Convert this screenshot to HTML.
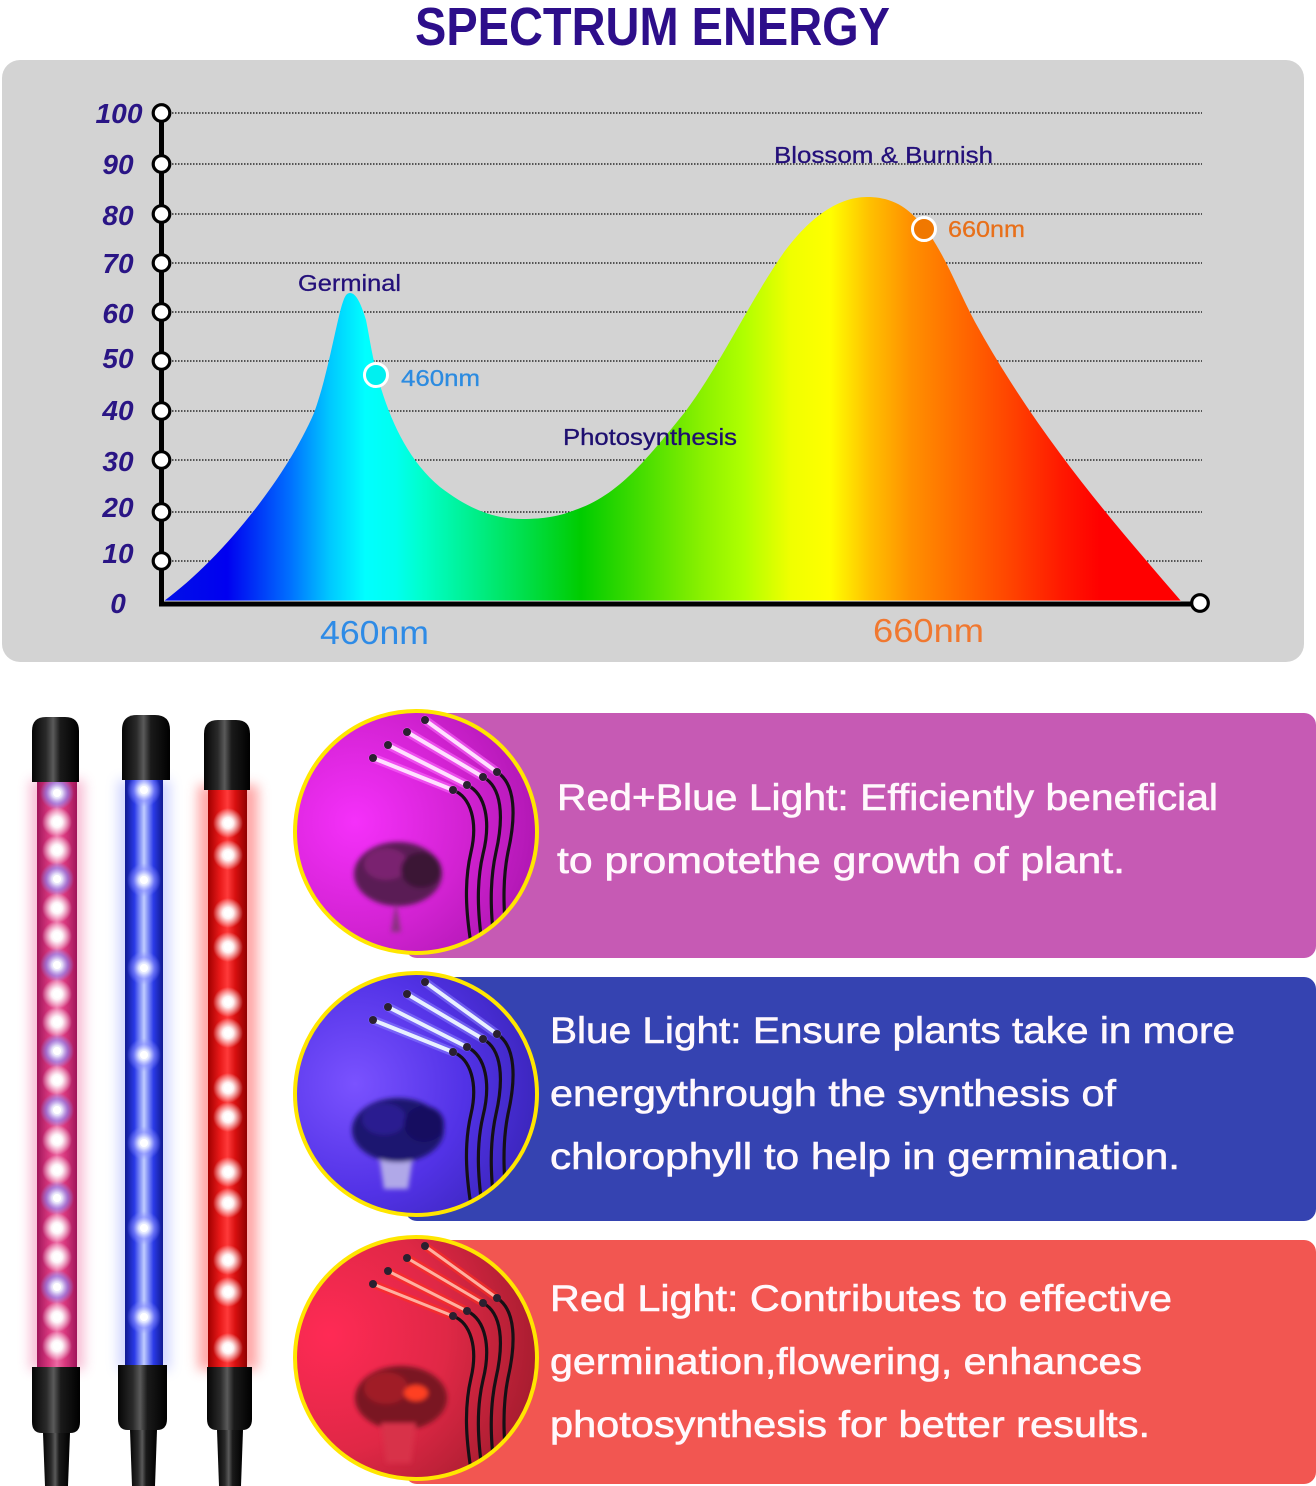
<!DOCTYPE html>
<html><head><meta charset="utf-8"><style>html,body{margin:0;padding:0;background:#fff}svg{display:block}</style></head>
<body>
<svg xmlns="http://www.w3.org/2000/svg" width="1316" height="1486" viewBox="0 0 1316 1486">
<defs>
<linearGradient id="spec" gradientUnits="userSpaceOnUse" x1="164" y1="0" x2="1181" y2="0">
<stop offset="0" stop-color="#0010E8"/>
<stop offset="0.062" stop-color="#0000F0"/>
<stop offset="0.124" stop-color="#0070FF"/>
<stop offset="0.163" stop-color="#00C8FF"/>
<stop offset="0.198" stop-color="#00FFFF"/>
<stop offset="0.228" stop-color="#00FFF0"/>
<stop offset="0.253" stop-color="#00FFCC"/>
<stop offset="0.307" stop-color="#00EE88"/>
<stop offset="0.35" stop-color="#00E050"/>
<stop offset="0.41" stop-color="#00CC00"/>
<stop offset="0.468" stop-color="#44DD00"/>
<stop offset="0.527" stop-color="#88F000"/>
<stop offset="0.57" stop-color="#B0FF00"/>
<stop offset="0.616" stop-color="#F0FF00"/>
<stop offset="0.655" stop-color="#FFFF00"/>
<stop offset="0.694" stop-color="#FFC000"/>
<stop offset="0.734" stop-color="#FF9000"/>
<stop offset="0.783" stop-color="#FF6A00"/>
<stop offset="0.837" stop-color="#FF4000"/>
<stop offset="0.881" stop-color="#FF1A00"/>
<stop offset="0.92" stop-color="#FF0000"/>
<stop offset="1" stop-color="#FF0000"/>
</linearGradient>
<linearGradient id="cap" x1="0" x2="1" y1="0" y2="0">
<stop offset="0" stop-color="#050505"/><stop offset="0.3" stop-color="#2a2a2a"/><stop offset="0.45" stop-color="#5a5a5a"/><stop offset="0.6" stop-color="#1a1a1a"/><stop offset="1" stop-color="#000"/>
</linearGradient>
<linearGradient id="t1" x1="0" x2="1" y1="0" y2="0">
<stop offset="0" stop-color="#a0145a"/><stop offset="0.3" stop-color="#d8387e"/><stop offset="0.5" stop-color="#ee6aa4"/><stop offset="0.7" stop-color="#d8387e"/><stop offset="1" stop-color="#a0145a"/>
</linearGradient>
<linearGradient id="t2" x1="0" x2="1" y1="0" y2="0">
<stop offset="0" stop-color="#101a90"/><stop offset="0.25" stop-color="#2a3ae8"/><stop offset="0.5" stop-color="#c0ccff"/><stop offset="0.75" stop-color="#2a3ae8"/><stop offset="1" stop-color="#101a90"/>
</linearGradient>
<linearGradient id="t3" x1="0" x2="1" y1="0" y2="0">
<stop offset="0" stop-color="#a00000"/><stop offset="0.3" stop-color="#e81818"/><stop offset="0.5" stop-color="#ff3a3a"/><stop offset="0.7" stop-color="#d81010"/><stop offset="1" stop-color="#900000"/>
</linearGradient>
<radialGradient id="ledw">
<stop offset="0" stop-color="#fff" stop-opacity="1"/><stop offset="0.35" stop-color="#fff" stop-opacity="0.95"/><stop offset="1" stop-color="#fff" stop-opacity="0"/>
</radialGradient>
<radialGradient id="ledb">
<stop offset="0" stop-color="#fff" stop-opacity="1"/><stop offset="0.3" stop-color="#e8ecff" stop-opacity="0.95"/><stop offset="0.65" stop-color="#8a90ff" stop-opacity="0.6"/><stop offset="1" stop-color="#8a90ff" stop-opacity="0"/>
</radialGradient>
<filter id="blur6" x="-50%" y="-10%" width="200%" height="120%"><feGaussianBlur stdDeviation="6"/></filter>
<filter id="blur2" x="-30%" y="-30%" width="160%" height="160%"><feGaussianBlur stdDeviation="2.5"/></filter>
<radialGradient id="p1" cx="0.25" cy="0.45" r="0.85">
<stop offset="0" stop-color="#f530fa"/><stop offset="0.5" stop-color="#d222d2"/><stop offset="1" stop-color="#a012a4"/>
</radialGradient>
<radialGradient id="p2" cx="0.25" cy="0.45" r="0.85">
<stop offset="0" stop-color="#7a52ff"/><stop offset="0.5" stop-color="#5232e6"/><stop offset="1" stop-color="#3020a8"/>
</radialGradient>
<radialGradient id="p3" cx="0.15" cy="0.4" r="0.9">
<stop offset="0" stop-color="#ff2a55"/><stop offset="0.5" stop-color="#e02846"/><stop offset="1" stop-color="#9a1a2a"/>
</radialGradient>
<clipPath id="c1"><circle cx="416" cy="832" r="121"/></clipPath>
<clipPath id="c2"><circle cx="416" cy="1094" r="121"/></clipPath>
<clipPath id="c3"><circle cx="416" cy="1358" r="121"/></clipPath>
<g id="stems" fill="none" stroke="#151015" stroke-width="3.2">
<path d="M37,-42 C55,-35 62,-10 55,20 C48,50 50,80 55,112"/>
<path d="M51,-47 C70,-38 75,-10 67,22 C60,52 62,82 66,112"/>
<path d="M67,-55 C86,-45 88,-15 80,20 C73,52 75,82 78,110"/>
<path d="M81,-60 C100,-48 100,-15 92,20 C86,50 88,80 90,104"/>
</g>
<g id="barends" fill="#2a2030">
<circle cx="-43" cy="-74" r="4"/><circle cx="-28" cy="-87" r="4"/><circle cx="-9" cy="-100" r="4"/><circle cx="9" cy="-112" r="4"/>
<circle cx="37" cy="-42" r="4"/><circle cx="51" cy="-47" r="4"/><circle cx="67" cy="-55" r="4"/><circle cx="81" cy="-60" r="4"/>
</g>
<g id="led1"><circle r="15" fill="url(#ledw)"/><circle r="4" fill="#fff"/></g>
<g id="led2"><circle r="17" fill="url(#ledb)"/><circle r="4" fill="#fff"/></g>
</defs>

<!-- Title -->
<text x="415" y="45" font-family="Liberation Sans, sans-serif" font-weight="bold" font-size="54" fill="#2D0E8A" textLength="475" lengthAdjust="spacingAndGlyphs">SPECTRUM ENERGY</text>

<!-- Panel -->
<rect x="2" y="60" width="1302" height="602" rx="18" fill="#D3D3D3"/>

<!-- Grid lines -->
<g stroke="#2a2a2a" stroke-width="1.5" stroke-dasharray="1.5 1.5">
<line x1="172" y1="113" x2="1202" y2="113"/>
<line x1="172" y1="164" x2="1202" y2="164"/>
<line x1="172" y1="214" x2="1202" y2="214"/>
<line x1="172" y1="263" x2="1202" y2="263"/>
<line x1="172" y1="312" x2="1202" y2="312"/>
<line x1="172" y1="361" x2="1202" y2="361"/>
<line x1="172" y1="411" x2="1202" y2="411"/>
<line x1="172" y1="460" x2="1202" y2="460"/>
<line x1="172" y1="512" x2="1202" y2="512"/>
<line x1="172" y1="561" x2="1202" y2="561"/>
</g>

<!-- Spectrum -->
<path fill="url(#spec)" d="M164,601 C220,560 285,480 314,413 C326,380 333,340 340,312 C344,297 346,293 350,293 C355,293 360,300 366,320 C370,340 373,362 380,385 C392,425 410,462 440,487 C470,510 495,519 522,519 C545,519 560,516 575,510 C620,495 650,455 685,412 C720,365 745,310 780,258 C805,222 835,197 867,197 C900,197 915,215 930,235 C948,262 958,290 975,322 C1040,440 1120,530 1181,601 Z"/>
<line x1="164" y1="601" x2="1181" y2="601" stroke="#fff" stroke-width="1" opacity="0.7"/>

<!-- Axes -->
<line x1="161.5" y1="113" x2="161.5" y2="606" stroke="#000" stroke-width="5"/>
<line x1="159" y1="604" x2="1200" y2="604" stroke="#000" stroke-width="5"/>
<g fill="#fff" stroke="#000" stroke-width="3.2">
<circle cx="161.5" cy="113" r="8.3"/>
<circle cx="161.5" cy="164" r="8.3"/>
<circle cx="161.5" cy="214" r="8.3"/>
<circle cx="161.5" cy="263" r="8.3"/>
<circle cx="161.5" cy="312" r="8.3"/>
<circle cx="161.5" cy="361" r="8.3"/>
<circle cx="161.5" cy="411" r="8.3"/>
<circle cx="161.5" cy="460" r="8.3"/>
<circle cx="161.5" cy="512" r="8.3"/>
<circle cx="161.5" cy="561" r="8.3"/>
<circle cx="1200" cy="603" r="8.3"/>
</g>

<!-- Y labels -->
<g font-family="Liberation Sans, sans-serif" font-style="italic" font-weight="bold" font-size="28" fill="#2A1585" text-anchor="middle">
<text x="119" y="123" textLength="47" lengthAdjust="spacingAndGlyphs">100</text>
<text x="118" y="174">90</text>
<text x="118" y="225">80</text>
<text x="118" y="273">70</text>
<text x="118" y="323">60</text>
<text x="118" y="368">50</text>
<text x="118" y="420">40</text>
<text x="118" y="471">30</text>
<text x="118" y="517">20</text>
<text x="118" y="563">10</text>
<text x="118" y="613">0</text>
</g>

<!-- Point markers -->
<circle cx="376" cy="375" r="11.5" fill="#00F0F0" stroke="#fff" stroke-width="3"/>
<circle cx="924" cy="229" r="11.5" fill="#F07800" stroke="#fff" stroke-width="3"/>

<!-- Chart labels -->
<g font-family="Liberation Sans, sans-serif" font-size="23" stroke-width="0.3">
<text x="298" y="291" fill="#24107A" stroke="#24107A" textLength="103" lengthAdjust="spacingAndGlyphs">Germinal</text>
<text x="401" y="386" fill="#2C8BE0" stroke="#2C8BE0" textLength="79" lengthAdjust="spacingAndGlyphs">460nm</text>
<text x="563" y="445" fill="#1E0F70" stroke="#1E0F70" textLength="174" lengthAdjust="spacingAndGlyphs">Photosynthesis</text>
<text x="774" y="163" fill="#24107A" stroke="#24107A" textLength="219" lengthAdjust="spacingAndGlyphs">Blossom &amp; Burnish</text>
<text x="948" y="237" fill="#E8701A" stroke="#E8701A" textLength="77" lengthAdjust="spacingAndGlyphs">660nm</text>
</g>
<g font-family="Liberation Sans, sans-serif" font-size="33">
<text x="320" y="644" fill="#2E8BE6" textLength="109" lengthAdjust="spacingAndGlyphs">460nm</text>
<text x="873" y="642" fill="#F07830" textLength="111" lengthAdjust="spacingAndGlyphs">660nm</text>
</g>

<!-- Bands -->
<rect x="405" y="713" width="911" height="245" rx="12" fill="#C65AB4"/>
<rect x="405" y="977" width="911" height="244" rx="12" fill="#3543B1"/>
<rect x="405" y="1240" width="911" height="244" rx="12" fill="#F25651"/>

<!-- Band text -->
<g font-family="Liberation Sans, sans-serif" font-size="37" fill="#FFF8FC" stroke="#FFF8FC" stroke-width="0.6">
<text x="557" y="810" textLength="661" lengthAdjust="spacingAndGlyphs">Red+Blue Light: Efficiently beneficial</text>
<text x="557" y="873" textLength="568" lengthAdjust="spacingAndGlyphs">to promotethe growth of plant.</text>
<text x="550" y="1043" textLength="685" lengthAdjust="spacingAndGlyphs">Blue Light: Ensure plants take in more</text>
<text x="550" y="1106" textLength="566" lengthAdjust="spacingAndGlyphs">energythrough the synthesis of</text>
<text x="550" y="1169" textLength="630" lengthAdjust="spacingAndGlyphs">chlorophyll to help in germination.</text>
<text x="550" y="1311" textLength="622" lengthAdjust="spacingAndGlyphs">Red Light: Contributes to effective</text>
<text x="550" y="1374" textLength="592" lengthAdjust="spacingAndGlyphs">germination,flowering, enhances</text>
<text x="550" y="1437" textLength="600" lengthAdjust="spacingAndGlyphs">photosynthesis for better results.</text>
</g>

<!-- Photo circle 1 (purple) -->
<g clip-path="url(#c1)">
<rect x="290" y="705" width="260" height="260" fill="url(#p1)"/>
<g transform="translate(416,832)">
<g filter="url(#blur2)">
<ellipse cx="-18" cy="42" rx="44" ry="32" fill="#5a1a54"/>
<ellipse cx="-30" cy="32" rx="22" ry="16" fill="#7a2470"/>
<ellipse cx="5" cy="38" rx="20" ry="18" fill="#3a1236"/>
<path d="M-20,70 L-15,100 L-25,100 Z" fill="#8a3080"/>
</g>
<use href="#stems"/>
<g stroke="#ff70ff" stroke-width="9" opacity="0.55" stroke-linecap="round">
<path d="M-43,-74 L37,-42"/><path d="M-28,-87 L51,-47"/><path d="M-9,-100 L67,-55"/><path d="M9,-112 L81,-60"/>
</g>
<g stroke="#ffe0ff" stroke-width="4" stroke-linecap="round">
<path d="M-43,-74 L37,-42"/><path d="M-28,-87 L51,-47"/><path d="M-9,-100 L67,-55"/><path d="M9,-112 L81,-60"/>
</g>
<use href="#barends"/>
</g>
</g>
<circle cx="416" cy="832" r="121" fill="none" stroke="#FFE600" stroke-width="4"/>

<!-- Photo circle 2 (blue) -->
<g clip-path="url(#c2)">
<rect x="290" y="967" width="260" height="260" fill="url(#p2)"/>
<g transform="translate(416,1094)">
<g filter="url(#blur2)">
<path d="M-38,55 L-2,55 L-8,95 L-32,95 Z" fill="#b0a8e8"/>
<ellipse cx="-18" cy="36" rx="46" ry="32" fill="#1c1470"/>
<ellipse cx="-32" cy="25" rx="22" ry="16" fill="#2a1e90"/>
<ellipse cx="8" cy="30" rx="20" ry="18" fill="#141060"/>
</g>
<use href="#stems"/>
<g stroke="#8a80ff" stroke-width="9" opacity="0.55" stroke-linecap="round">
<path d="M-43,-74 L37,-42"/><path d="M-28,-87 L51,-47"/><path d="M-9,-100 L67,-55"/><path d="M9,-112 L81,-60"/>
</g>
<g stroke="#e8f0ff" stroke-width="4" stroke-linecap="round">
<path d="M-43,-74 L37,-42"/><path d="M-28,-87 L51,-47"/><path d="M-9,-100 L67,-55"/><path d="M9,-112 L81,-60"/>
</g>
<use href="#barends"/>
</g>
</g>
<circle cx="416" cy="1094" r="121" fill="none" stroke="#FFE600" stroke-width="4"/>

<!-- Photo circle 3 (red) -->
<g clip-path="url(#c3)">
<rect x="290" y="1231" width="260" height="260" fill="url(#p3)"/>
<g transform="translate(416,1358)">
<g filter="url(#blur2)">
<ellipse cx="-15" cy="40" rx="46" ry="32" fill="#7a1420"/>
<ellipse cx="-30" cy="30" rx="22" ry="16" fill="#a01a28"/>
<ellipse cx="0" cy="35" rx="12" ry="8" fill="#ff4020"/>
<path d="M-35,65 L0,65 L-5,105 L-30,105 Z" fill="#d83048"/>
</g>
<use href="#stems"/>
<g stroke="#ff3020" stroke-width="8" opacity="0.6" stroke-linecap="round">
<path d="M-43,-74 L37,-42"/><path d="M-28,-87 L51,-47"/><path d="M-9,-100 L67,-55"/><path d="M9,-112 L81,-60"/>
</g>
<g stroke="#ffb0a0" stroke-width="3" stroke-linecap="round">
<path d="M-43,-74 L37,-42"/><path d="M-28,-87 L51,-47"/><path d="M-9,-100 L67,-55"/><path d="M9,-112 L81,-60"/>
</g>
<use href="#barends"/>
</g>
</g>
<circle cx="416" cy="1358" r="121" fill="none" stroke="#FFE600" stroke-width="4"/>

<!-- Lamp halos -->
<rect x="30" y="780" width="54" height="590" fill="#f06aa0" opacity="0.45" filter="url(#blur6)"/>
<rect x="118" y="780" width="52" height="590" fill="#7a88ff" opacity="0.35" filter="url(#blur6)"/>
<rect x="198" y="785" width="60" height="585" fill="#ff5050" opacity="0.5" filter="url(#blur6)"/>

<!-- Lamp tubes -->
<rect x="37" y="778" width="40" height="592" fill="url(#t1)"/>
<rect x="125" y="778" width="38" height="590" fill="url(#t2)"/>
<rect x="208" y="785" width="39" height="585" fill="url(#t3)"/>

<!-- Lamp 1 LEDs -->
<g transform="translate(57,0)">
<use href="#led2" y="793"/><use href="#led1" y="822"/><use href="#led1" y="850"/><use href="#led2" y="879"/>
<use href="#led1" y="908"/><use href="#led1" y="936"/><use href="#led2" y="965"/><use href="#led1" y="994"/>
<use href="#led1" y="1022"/><use href="#led2" y="1051"/><use href="#led1" y="1080"/><use href="#led2" y="1110"/>
<use href="#led1" y="1140"/><use href="#led1" y="1170"/><use href="#led2" y="1198"/><use href="#led1" y="1228"/>
<use href="#led1" y="1257"/><use href="#led2" y="1287"/><use href="#led1" y="1317"/><use href="#led1" y="1346"/>
</g>
<!-- Lamp 2 LEDs -->
<g transform="translate(144,0)">
<use href="#led2" y="790"/><use href="#led2" y="880"/><use href="#led2" y="968"/><use href="#led2" y="1055"/>
<use href="#led2" y="1143"/><use href="#led2" y="1228"/><use href="#led2" y="1317"/>
</g>
<!-- Lamp 3 LEDs -->
<g transform="translate(228,0)">
<use href="#led1" y="823"/><use href="#led1" y="855"/><use href="#led1" y="913"/><use href="#led1" y="947"/>
<use href="#led1" y="1002"/><use href="#led1" y="1033"/><use href="#led1" y="1088"/><use href="#led1" y="1117"/>
<use href="#led1" y="1172"/><use href="#led1" y="1203"/><use href="#led1" y="1260"/><use href="#led1" y="1292"/>
<use href="#led1" y="1348"/>
</g>

<!-- Lamp caps top -->
<path d="M32,782 L32,731 Q32,717 46,717 L65,717 Q79,717 79,731 L79,782 Z" fill="url(#cap)"/>
<path d="M122,780 L122,730 Q122,715 137,715 L155,715 Q170,715 170,730 L170,780 Z" fill="url(#cap)"/>
<path d="M204,790 L204,734 Q204,720 218,720 L236,720 Q250,720 250,734 L250,790 Z" fill="url(#cap)"/>

<!-- Lamp bases -->
<path d="M32,1367 L80,1367 L80,1422 Q80,1433 70,1433 L42,1433 Q32,1433 32,1422 Z" fill="url(#cap)"/>
<path d="M43,1433 L70,1433 L68,1486 L45,1486 Z" fill="url(#cap)"/>
<path d="M118,1365 L167,1365 L167,1419 Q167,1430 157,1430 L128,1430 Q118,1430 118,1419 Z" fill="url(#cap)"/>
<path d="M130,1430 L157,1430 L155,1486 L132,1486 Z" fill="url(#cap)"/>
<path d="M207,1367 L252,1367 L252,1419 Q252,1430 242,1430 L217,1430 Q207,1430 207,1419 Z" fill="url(#cap)"/>
<path d="M217,1430 L243,1430 L241,1486 L219,1486 Z" fill="url(#cap)"/>
</svg>
</body></html>
